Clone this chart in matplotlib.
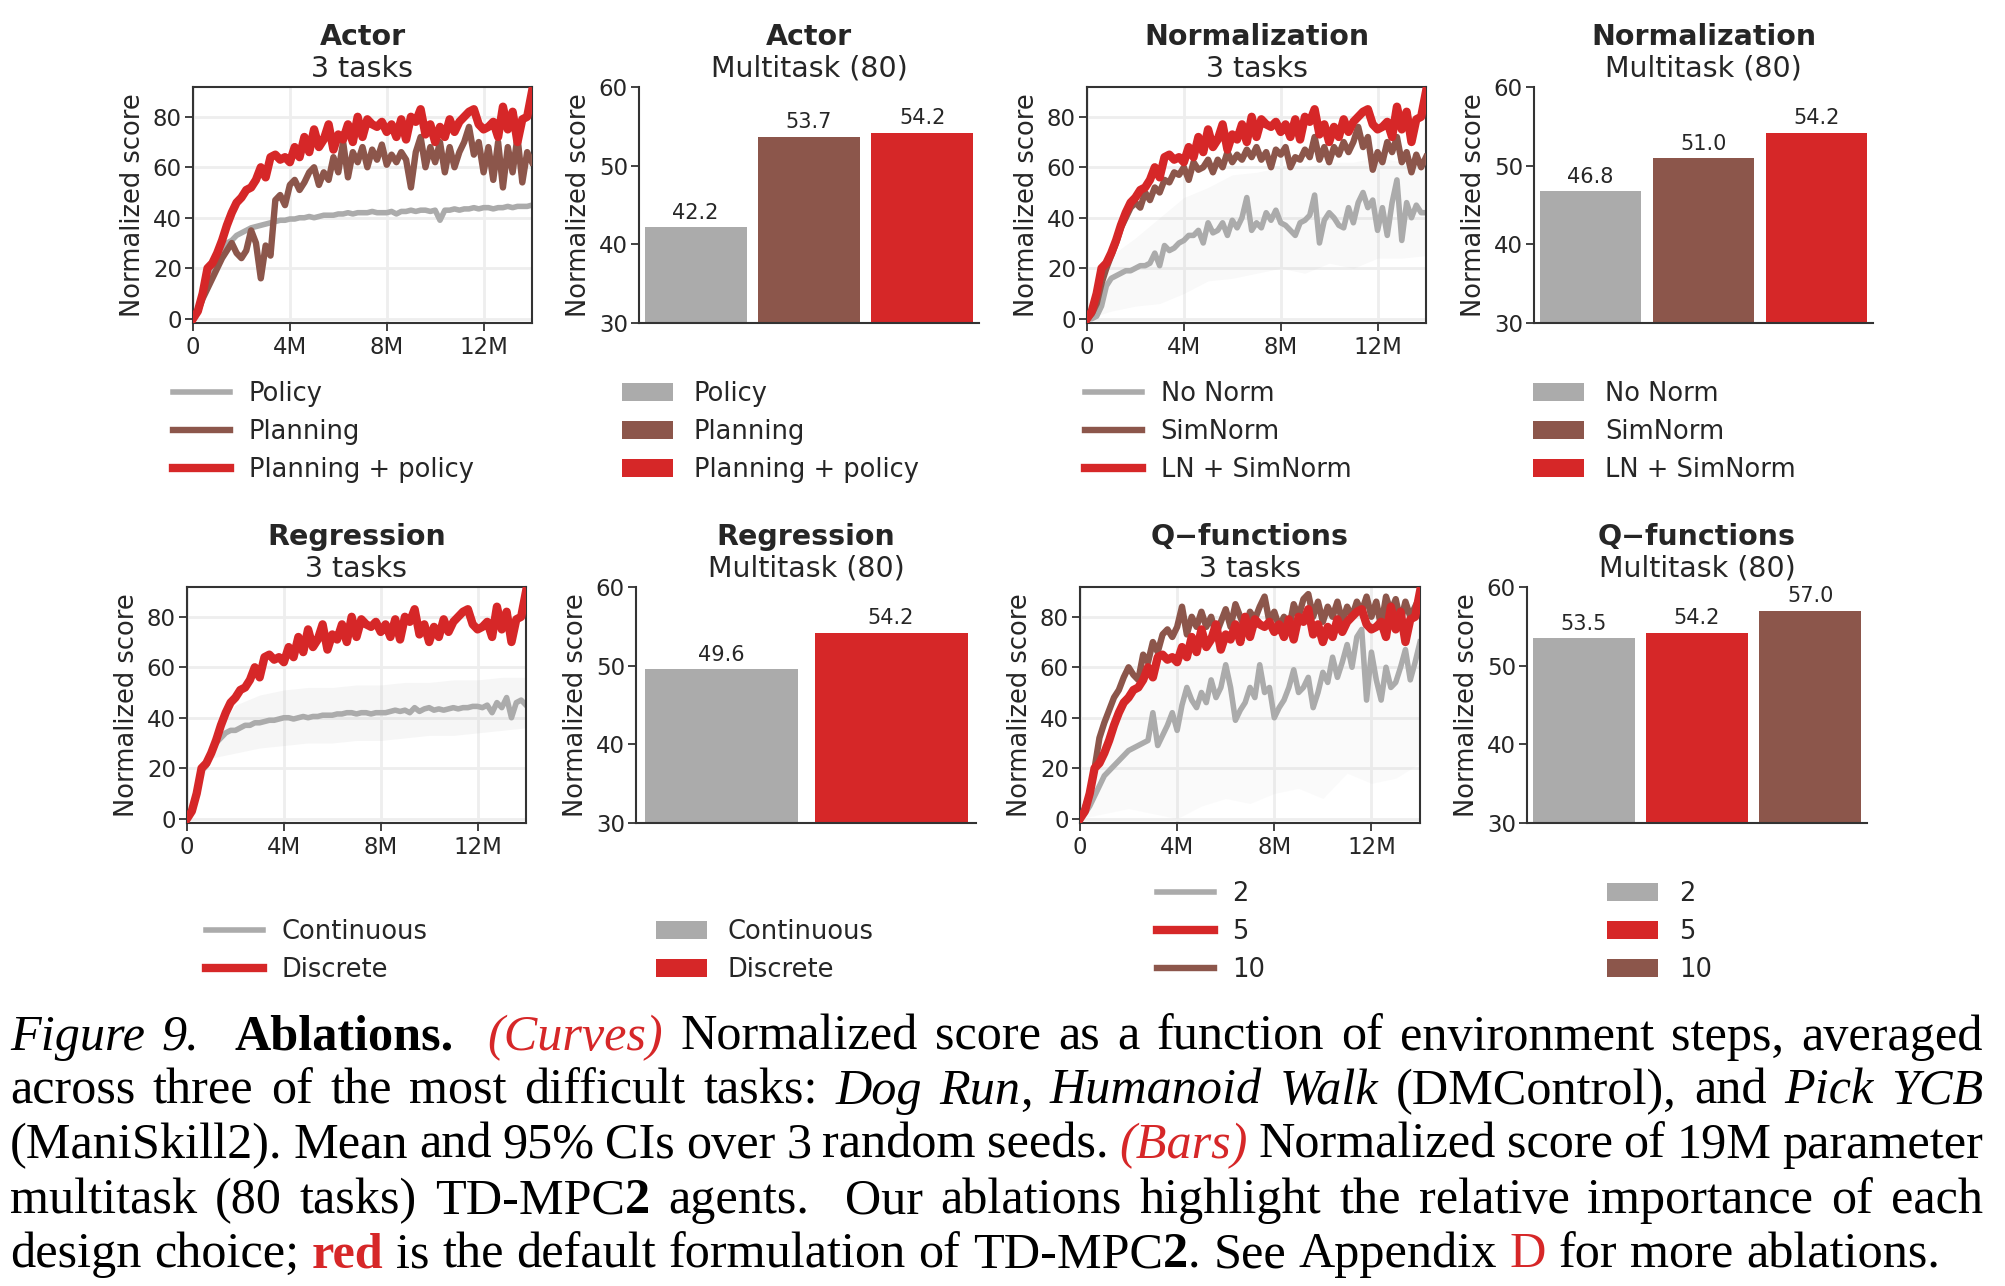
import matplotlib
matplotlib.use("Agg")
import matplotlib.pyplot as plt
import numpy as np

W, H = 2006, 1286

GRAY = "#ababab"
BROWN = "#8c564b"
RED = "#d62728"
TXT = "#262626"

# evaluation points (millions of env steps), one every 200k
steps_m = np.linspace(0, 14, 71)
band_steps_m = np.arange(0, 15)

x_ticks = [0, 4, 8, 12]
x_tick_labels = ["0", "4M", "8M", "12M"]
y_ticks_curve = [0, 20, 40, 60, 80]
y_ticks_bar = [30, 40, 50, 60]

# default TD-MPC2 (red), same run in every curve panel
default_red = [0, 3, 10, 20, 22, 26, 31, 37, 42, 46,
               48, 51, 52, 55, 60, 56, 64, 65, 63, 64,
               62, 68, 64, 72, 66, 75, 68, 71, 77, 67,
               73, 71, 77, 70, 80, 72, 79, 77, 76, 78,
               74, 77, 72, 79, 71, 80, 78, 83, 73, 77,
               70, 76, 72, 79, 74, 78, 80, 82, 83, 77,
               75, 76, 78, 72, 84, 75, 82, 70, 79, 80,
               90]

actor_policy = [0, 4, 10, 16, 21, 25, 28, 30, 31, 33,
                34, 35, 36, 36.5, 37, 37.5, 38, 38.5, 39, 39,
                39.5, 39.5, 40, 40, 40.5, 40, 40.5, 41, 41, 41,
                41.5, 41.5, 42, 41.5, 42, 42, 42, 42.5, 42, 42,
                42, 42.5, 41.5, 42.5, 42.5, 43, 42.5, 43, 43, 42.5,
                43, 39, 43, 43, 43.5, 43, 43.5, 43.5, 44, 43.5,
                44, 44, 43.5, 44, 44, 44.5, 44, 44.5, 44.5, 44.5,
                45]

actor_planning = [0, 3, 8, 12, 16, 20, 24, 27, 30, 26,
                  24, 27, 35, 30, 16, 29, 25, 47, 49, 45,
                  53, 55, 51, 54, 58, 60, 53, 58, 55, 64,
                  58, 70, 56, 66, 62, 68, 60, 67, 63, 69,
                  61, 65, 62, 66, 63, 52, 66, 72, 60, 68,
                  62, 70, 58, 68, 60, 66, 70, 76, 65, 70,
                  58, 68, 55, 70, 52, 68, 58, 72, 54, 66,
                  62]

norm_nonorm = [0, 0, 1, 5, 13, 16, 17, 18, 19, 19,
               20, 21, 21, 22, 26, 21, 29, 27, 28, 30,
               31, 33, 33, 35, 30, 38, 34, 35, 38, 33,
               39, 36, 40, 48, 35, 38, 36, 42, 39, 43,
               38, 37, 35, 33, 38, 39, 41, 49, 30, 39,
               42, 40, 37, 36, 44, 38, 46, 50, 44, 47,
               35, 44, 33, 46, 55, 31, 46, 40, 45, 42,
               42]
norm_nonorm_lo = [0, 3, 5, 6, 10, 15, 16, 18, 20, 18, 22, 20, 24, 24, 25]
norm_nonorm_hi = [0, 25, 32, 40, 48, 52, 57, 58, 60, 60, 62, 62, 64, 62, 62]

norm_simnorm = [0, 2, 6, 14, 20, 25, 30, 36, 40, 44,
                46, 44, 50, 47, 52, 50, 55, 54, 58, 57,
                60, 55, 62, 59, 60, 63, 58, 63, 60, 66,
                62, 65, 63, 67, 64, 68, 63, 66, 60, 67,
                65, 68, 60, 64, 63, 67, 64, 72, 63, 68,
                62, 68, 65, 70, 66, 70, 76, 68, 72, 59,
                66, 62, 70, 66, 72, 62, 66, 58, 65, 60,
                64]

reg_continuous = [0, 3, 10, 19, 21, 26, 30, 32, 34, 35,
                  35, 36, 37, 37, 38, 38, 38.5, 39, 39, 39.5,
                  40, 40, 39.5, 40, 40.5, 40, 40.5, 40.5, 41, 41,
                  41, 41.5, 41.5, 42, 42, 41.5, 42, 42, 41.5, 42,
                  42, 42, 42.5, 43, 42.5, 43, 42, 44, 42.5, 43.5,
                  44, 43, 43.5, 43, 43.5, 44, 43.5, 44, 44, 44.5,
                  44.5, 44, 45, 42, 46, 44, 48, 40, 46, 47,
                  45]
reg_continuous_lo = [0, 24, 26, 28, 29, 30, 30, 31, 31, 32, 33, 33, 34, 35, 36]
reg_continuous_hi = [0, 32, 45, 49, 51, 52, 52, 53, 53, 54, 54, 55, 55, 56, 56]

q_two = [0, 2, 5, 9, 13, 17, 19, 21, 23, 25,
         27, 28, 29, 30, 31, 42, 29, 33, 37, 42,
         35, 45, 52, 47, 44, 50, 46, 55, 48, 52,
         61, 52, 39, 43, 46, 52, 48, 61, 50, 52,
         40, 44, 47, 52, 59, 50, 52, 56, 44, 50,
         58, 54, 64, 56, 62, 69, 60, 72, 75, 47,
         66, 55, 47, 60, 52, 54, 60, 67, 55, 62,
         70]
q_two_lo = [0, 2, 4, 2, 0, 5, 8, 6, 10, 12, 8, 18, 14, 16, 22]
q_two_hi = [0, 30, 50, 60, 68, 70, 72, 75, 76, 78, 80, 82, 84, 84, 86]

q_ten = [0, 4, 10, 20, 32, 38, 43, 48, 51, 56,
         60, 57, 55, 65, 62, 70, 66, 73, 75, 72,
         76, 84, 73, 80, 76, 82, 76, 80, 73, 78,
         83, 76, 85, 80, 75, 82, 79, 84, 88, 78,
         82, 76, 80, 75, 85, 80, 87, 89, 80, 86,
         78, 84, 80, 86, 78, 84, 80, 86, 82, 88,
         80, 86, 76, 88, 82, 87, 78, 86, 80, 84,
         88]

# multitask (80 tasks) bars
actor_labels = ["Policy", "Planning", "Planning + policy"]
actor_scores = [42.2, 53.7, 54.2]
norm_labels = ["No Norm", "SimNorm", "LN + SimNorm"]
norm_scores = [46.8, 51.0, 54.2]
reg_labels = ["Continuous", "Discrete"]
reg_scores = [49.6, 54.2]
q_labels = ["2", "5", "10"]
q_scores = [53.5, 54.2, 57.0]

plt.rcParams.update({
    "font.family": "DejaVu Sans",
    "text.color": TXT,
    "axes.labelcolor": TXT,
    "axes.edgecolor": "#333333",
    "axes.linewidth": 1.5,
    "xtick.color": "#333333",
    "ytick.color": "#333333",
    "xtick.labelcolor": TXT,
    "ytick.labelcolor": TXT,
    "xtick.major.size": 5.5,
    "ytick.major.size": 5.5,
    "xtick.major.width": 1.3,
    "ytick.major.width": 1.3,
    "xtick.major.pad": 3.5,
    "ytick.major.pad": 2.5,
    "xtick.labelsize": 16.5,
    "ytick.labelsize": 16.5,
    "axes.labelsize": 18.5,
    "legend.fontsize": 18.5,
})

fig = plt.figure(figsize=(W / 100, H / 100), dpi=100)


def add_axes(box):
    l, t, r, b = box
    return fig.add_axes([l / W, 1 - b / H, (r - l) / W, (b - t) / H])


def titles(box, name, sub, row_off):
    cx = (box[0] + box[2]) / 2 / W
    fig.text(cx, 1 - (45 + row_off) / H, name, ha="center", va="baseline",
             fontsize=20.5, fontweight="bold")
    fig.text(cx, 1 - (77 + row_off) / H, sub, ha="center", va="baseline",
             fontsize=20.5)


def place_legend(ax, handles, labels, lx, cy, **kw):
    ax.legend(handles, labels, loc="center left",
              bbox_to_anchor=(lx / W, 1 - cy / H), bbox_transform=fig.transFigure,
              frameon=False, borderpad=0, borderaxespad=0, labelspacing=0.47, **kw)


def curve_panel(box, name, lines, bands, lx, cy, row_off):
    ax = add_axes(box)
    for lo, hi, a in bands:
        ax.fill_between(band_steps_m, lo, hi, color=GRAY, alpha=a, lw=0)
    hs = []
    for vals, col, lw, lab, z in lines:
        h, = ax.plot(steps_m, vals, color=col, lw=lw, label=lab, zorder=z,
                     solid_joinstyle="round")
        hs.append(h)
    ax.set_xlim(0, 14)
    ax.set_ylim(-1.7, 91.8)
    ax.set_xticks(x_ticks)
    ax.set_xticklabels(x_tick_labels)
    ax.set_yticks(y_ticks_curve)
    ax.grid(True, color="#eeeeee", lw=2)
    ax.set_axisbelow(True)
    ax.set_ylabel("Normalized score", labelpad=5)
    titles(box, name, "3 tasks", row_off)
    place_legend(ax, hs, [l[3] for l in lines], lx, cy,
                 handlelength=2.2, handletextpad=0.74)
    return ax


def bar_panel(box, name, labels, vals, cols, lx, cy, row_off):
    ax = add_axes(box)
    pos = np.arange(len(vals))
    bars = ax.bar(pos, vals, width=0.9, color=cols)
    ax.bar_label(bars, labels=[f"{v:.1f}" for v in vals], padding=3, fontsize=15,
                 color=TXT)
    ax.set_ylim(30, 60)
    ax.set_xlim(-0.5, len(vals) - 0.5)
    ax.set_yticks(y_ticks_bar)
    ax.set_xticks([])
    for s in ("top", "right"):
        ax.spines[s].set_visible(False)
    ax.set_ylabel("Normalized score", labelpad=5)
    titles(box, name, "Multitask (80)", row_off)
    place_legend(ax, list(bars.patches), labels, lx, cy,
                 handlelength=2.0, handleheight=0.7, handletextpad=0.8)
    return ax


LW_G, LW_B, LW_R = 4.0, 4.6, 6.0

curve_panel((193, 87, 532, 323), "Actor",
            [(actor_policy, GRAY, LW_G, actor_labels[0], 2),
             (actor_planning, BROWN, LW_B, actor_labels[1], 3),
             (default_red, RED, LW_R, actor_labels[2], 4)],
            [], 173, 432, 0)
bar_panel((639, 87, 979, 323), "Actor", actor_labels, actor_scores,
          [GRAY, BROWN, RED], 622, 432, 0)

curve_panel((1087, 87, 1426, 323), "Normalization",
            [(norm_nonorm, GRAY, LW_G, norm_labels[0], 2),
             (norm_simnorm, BROWN, LW_B, norm_labels[1], 3),
             (default_red, RED, LW_R, norm_labels[2], 4)],
            [(norm_nonorm_lo, norm_nonorm_hi, 0.07)], 1085, 432, 0)
bar_panel((1534, 87, 1873, 323), "Normalization", norm_labels, norm_scores,
          [GRAY, BROWN, RED], 1533, 432, 0)

curve_panel((187, 587, 526, 823), "Regression",
            [(reg_continuous, GRAY, LW_G, reg_labels[0], 2),
             (default_red, RED, LW_R, reg_labels[1], 4)],
            [(reg_continuous_lo, reg_continuous_hi, 0.1)], 206, 951, 500)
bar_panel((636, 587, 976, 823), "Regression", reg_labels, reg_scores,
          [GRAY, RED], 656, 951, 500)

curve_panel((1080, 587, 1420, 823), "Q\u2212functions",
            [(q_two, GRAY, LW_G, q_labels[0], 2),
             (default_red, RED, LW_R, q_labels[1], 4),
             (q_ten, BROWN, LW_B, q_labels[2], 3)],
            [(q_two_lo, q_two_hi, 0.05)], 1157, 932, 500)
bar_panel((1527, 587, 1867, 823), "Q\u2212functions", q_labels, q_scores,
          [GRAY, RED, BROWN], 1607, 932, 500)

# ---- caption (justified serif text) ----
cap_lines = [
    [("i", "Figure 9.  "), ("b", "Ablations.  "), ("ri", "(Curves)"),
     ("n", " Normalized score as a function of environment steps, averaged")],
    [("n", "across three of the most difficult tasks: "), ("i", "Dog Run"), ("n", ", "),
     ("i", "Humanoid Walk"), ("n", " (DMControl), and "), ("i", "Pick YCB")],
    [("n", "(ManiSkill2). Mean and 95% CIs over 3 random seeds. "), ("ri", "(Bars)"),
     ("n", " Normalized score of 19M parameter")],
    [("n", "multitask (80 tasks) TD-MPC"), ("b", "2"),
     ("n", " agents.  Our ablations highlight the relative importance of each")],
    [("n", "design choice; "), ("rb", "red"), ("n", " is the default formulation of TD-MPC"),
     ("b", "2"), ("n", ". See Appendix "), ("r", "D"), ("n", " for more ablations.")],
]
cap_baselines = [1050, 1104, 1158, 1213, 1267]
CAP_X0, CAP_X1, LAST_W = 10, 1983, 1932


def style_kw(st):
    kw = dict(family="Liberation Serif", color="black")
    if "i" in st:
        kw["style"] = "italic"
    if "b" in st:
        kw["weight"] = "bold"
    if "r" in st:
        kw["color"] = RED
    return kw


def split_words(segs):
    words = [[]]
    for st, s in segs:
        for k, tok in enumerate(s.split(" ")):
            if k > 0:
                words.append([])
            if tok:
                words[-1].append((st, tok))
    return words


renderer = fig.canvas.get_renderer()


def text_w(s, st, size):
    t = fig.text(0, 0, s, fontsize=size, **style_kw(st))
    w = t.get_window_extent(renderer).width
    t.remove()
    return w


def line_layout(words, size):
    return [sum(text_w(s, st, size) for st, s in w) for w in words]


base = 34
sp = text_w("x x", "n", base) - text_w("xx", "n", base)
last_words = split_words(cap_lines[-1])
nat = sum(line_layout(last_words, base)) + sp * (len(last_words) - 1)
cap_size = base * LAST_W / nat
sp = text_w("x x", "n", cap_size) - text_w("xx", "n", cap_size)

for i, segs in enumerate(cap_lines):
    words = split_words(segs)
    ww = line_layout(words, cap_size)
    if i < len(cap_lines) - 1:
        gap = (CAP_X1 - CAP_X0 - sum(ww)) / (len(words) - 1)
    else:
        gap = sp
    x = CAP_X0
    y = 1 - cap_baselines[i] / H
    for w, wlen in zip(words, ww):
        for st, s in w:
            fig.text(x / W, y, s, fontsize=cap_size, va="baseline", **style_kw(st))
            x += text_w(s, st, cap_size)
        x += gap

fig.savefig("out.png", dpi=100)
